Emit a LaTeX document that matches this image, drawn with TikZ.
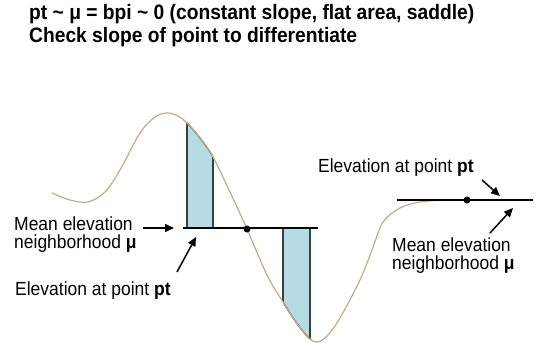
\documentclass[tikz,border=0pt]{standalone}
\usepackage{fontspec}
\setmainfont{Liberation Sans}[FakeStretch=0.92]
\usepackage{xcolor}
\usepackage{tikz}
\usetikzlibrary{arrows.meta}
\definecolor{relief}{RGB}{196,170,138}
\definecolor{aire}{RGB}{180,220,226}
\definecolor{bord}{RGB}{55,65,68}
% profil du terrain (coordonnées en pixels)
\newcommand{\profil}{plot[smooth,tension=0.55] coordinates {(52,193) (70,200) (88,202) (105,192) (120,170) (140,133) (155,117) (167,113) (178,116) (187,123) (200,138) (213,157) (230,192) (247,229) (267,275) (283,302) (298,325) (310,339) (318,342) (327,336) (340,318) (360,280) (372,250) (383,222) (400,208) (420,202) (445,200)}}

\begin{document}
\begin{tikzpicture}[x=1pt, y=-1pt,
  titre/.style={font=\fontsize{20.9}{24}\selectfont\bfseries, inner sep=0pt, anchor=base west},
  legende/.style={font=\fontsize{19}{21}\selectfont, inner sep=0pt, anchor=base west},
  fleche/.style={-{Triangle[length=9pt,width=8pt]}, line width=1.5pt},
  moyenne/.style={line width=1.6pt, black},
  point/.style={circle, fill=black, inner sep=0pt, minimum size=7pt},
  bande/.style={draw=bord, line width=1.3pt}]
\useasboundingbox (0,0) rectangle (542,343);

% Titre
\node[titre] (titre1) at (29,19) {pt \textasciitilde{} μ = bpi \textasciitilde{} 0 (constant slope, flat area, saddle)};
\node[titre] (titre2) at (29,42) {Check slope of point to differentiate};

% Bandes colorées sous / sur la courbe
\begin{scope}
  \clip (187,100) rectangle (213,228);
  \fill[aire] \profil -- (445,350) -- (52,350) -- cycle;
  \draw[bord, line width=1.3pt] \profil;
\end{scope}
\begin{scope}
  \clip (283,228) rectangle (310,345);
  \fill[aire] \profil -- (445,60) -- (52,60) -- cycle;
  \draw[bord, line width=1.3pt] \profil;
\end{scope}
\draw[bande] (187,123) -- (187,228);
\draw[bande] (213,157) -- (213,228);
\draw[bande] (283,228) -- (283,302);
\draw[bande] (310,228) -- (310,339);

% Courbe
\draw[relief, line width=1.2pt] \profil;

% Lignes de moyenne et points
\coordinate (moyG1) at (183,228);
\coordinate (moyG2) at (318,228);
\coordinate (moyD1) at (397,200);
\coordinate (moyD2) at (533,200);
\draw[moyenne] (moyG1) -- (moyG2);
\draw[moyenne] (moyD1) -- (moyD2);
\node[point] (ptG) at (247,229) {};
\node[point] (ptD) at (467,200) {};

% Légendes à gauche
\node[legende] (moyGtxt) at (14,230) {Mean elevation};
\node[legende] (moyGtxt2) at (14,248) {neighborhood \textbf{μ}};
\node[legende] (elevGtxt) at (15,295) {Elevation at point \textbf{pt}};

% Légendes à droite
\node[legende] (elevDtxt) at (318,172) {Elevation at point \textbf{pt}};
\node[legende] (moyDtxt) at (392,251) {Mean elevation};
\node[legende] (moyDtxt2) at (392,269) {neighborhood \textbf{μ}};

% Flèches
\coordinate (fA) at (143,228);
\coordinate (fB) at (174,228);
\coordinate (fC) at (177,272);
\coordinate (fD) at (196,237);
\coordinate (fE) at (482,180);
\coordinate (fF) at (500,196);
\coordinate (fG) at (490,233);
\coordinate (fH) at (513,208);
\draw[fleche] (fA) -- (fB);
\draw[fleche] (fC) -- (fD);
\draw[fleche] (fE) -- (fF);
\draw[fleche] (fG) -- (fH);
\end{tikzpicture}
\end{document}
